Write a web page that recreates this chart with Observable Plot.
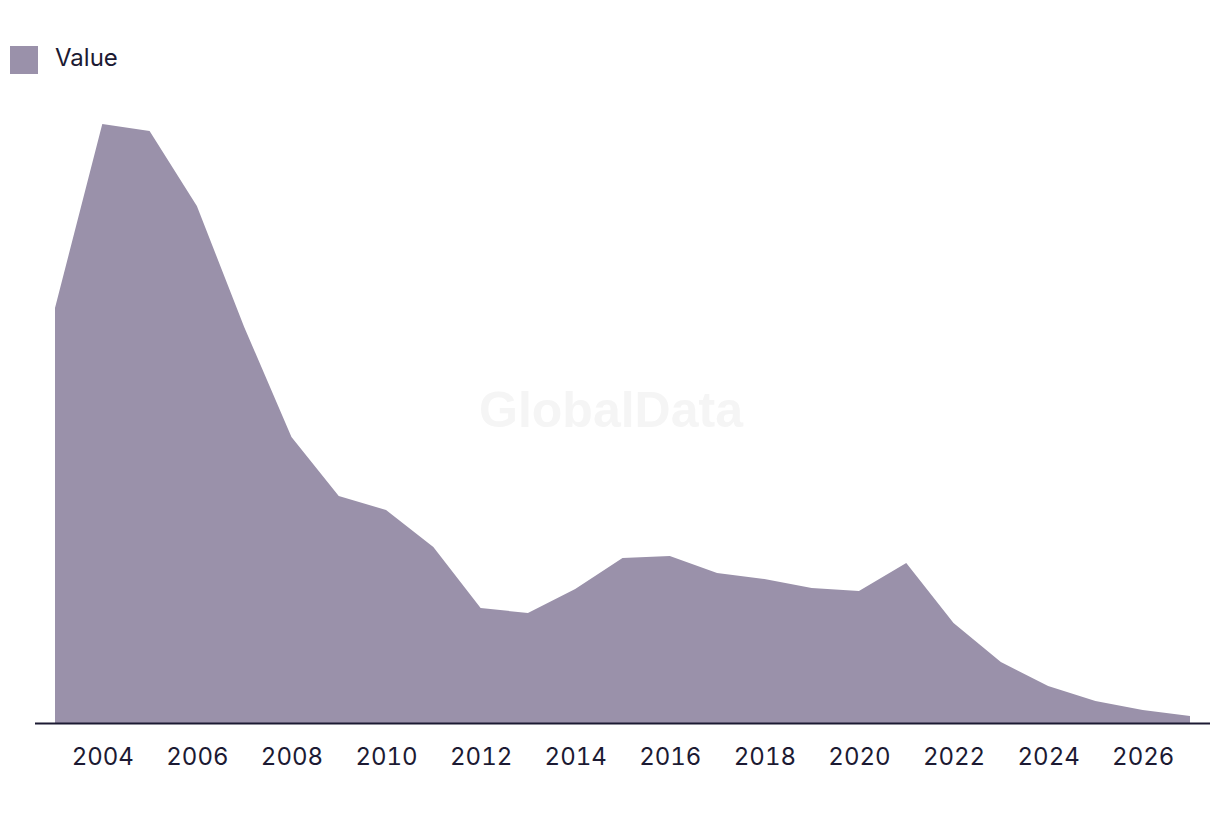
<!DOCTYPE html>
<html>
<head>
<meta charset="utf-8">
<script src="https://cdn.jsdelivr.net/npm/d3@7"></script>
<script src="https://cdn.jsdelivr.net/npm/@observablehq/plot@0.6"></script>
<style>
  html, body { margin: 0; padding: 0; background: #ffffff; }
  body { width: 1220px; height: 816px; overflow: hidden; font-family: Inter, "Noto Sans", sans-serif; }
  #legend { height: 100px; position: relative; }
  #legend .sw { position: absolute; left: 10px; top: 46px; width: 28px; height: 28px; background: #9a91aa; }
  #legend .lb { position: absolute; left: 55px; top: 43px; font-size: 24px; line-height: 30px; color: #1c1a33; }
  #chart svg { display: block; }
</style>
</head>
<body>
<div id="legend"><div class="sw"></div><div class="lb">Value</div></div>
<div id="chart"></div>
<script>
const years = [2003, 2004, 2005, 2006, 2007, 2008, 2009, 2010, 2011, 2012, 2013, 2014, 2015,
               2016, 2017, 2018, 2019, 2020, 2021, 2022, 2023, 2024, 2025, 2026, 2027];
const values = [41.5, 59.9, 59.2, 51.7, 39.6, 28.6, 22.7, 21.3, 17.6, 11.5, 11.0, 13.4, 16.5,
                16.7, 15.0, 14.4, 13.5, 13.2, 16.0, 10.0, 6.1, 3.7, 2.2, 1.3, 0.7];
const tickYears = [2004, 2006, 2008, 2010, 2012, 2014, 2016, 2018, 2020, 2022, 2024, 2026];
const seriesName = "Value";
const watermark = "GlobalData";

const data = years.map((y, i) => ({year: y, value: values[i], series: seriesName}));

const chart = Plot.plot({
  width: 1220,
  height: 716,
  marginLeft: 55,
  marginRight: 30,
  marginTop: 23,
  marginBottom: 93,
  style: {fontFamily: "Inter, 'Noto Sans', sans-serif", fontSize: "24px", color: "#1c1a33", background: "#ffffff"},
  x: {domain: [2003, 2027], ticks: tickYears, tickFormat: d => String(d), tickSize: 0, tickPadding: 24, label: null},
  y: {domain: [0, 60], axis: null},
  marks: [
    Plot.text([watermark], {frameAnchor: "middle", dx: -12, dy: -13, fontFamily: "'Liberation Sans', Arial, sans-serif", fontWeight: "bold", fontSize: 50, fill: "#f5f5f5"}),
    Plot.areaY(data, {x: "year", y: "value", fill: "#9a91aa", curve: "linear"}),
    Plot.ruleY([0], {stroke: "#1c1a33", strokeWidth: 2, insetLeft: -20, insetRight: -20})
  ]
});
document.getElementById("chart").appendChild(chart);
</script>
</body>
</html>
